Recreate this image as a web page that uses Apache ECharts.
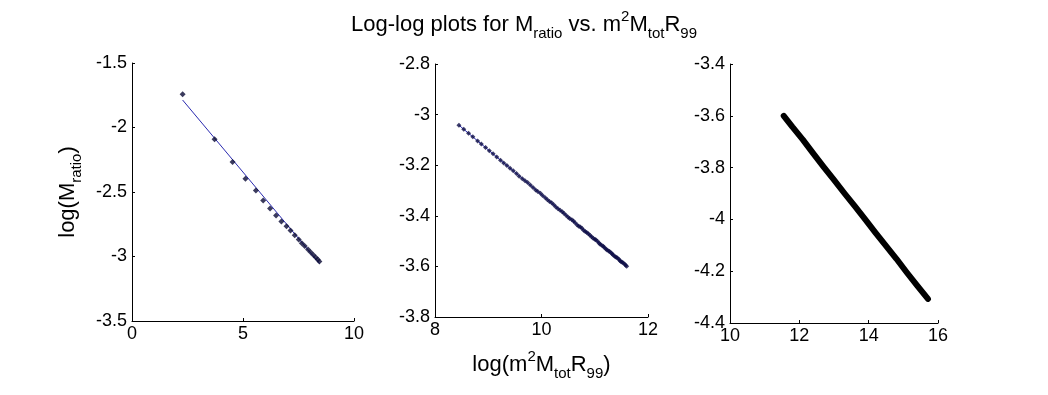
<!DOCTYPE html>
<html><head><meta charset="utf-8">
<script src="https://cdn.jsdelivr.net/npm/echarts@6/dist/echarts.min.js"></script>
<style>html,body{margin:0;padding:0;background:#fff}#c{width:1048px;height:395px}</style>
</head><body><div id="c"></div>
<script>
// Panel 1: log(M_ratio) vs log(m^2 M_tot R_99), first range
const p1X = [2.28, 3.72, 4.53, 5.11, 5.58, 5.91, 6.22, 6.49, 6.73, 6.96, 7.14, 7.33, 7.51, 7.65, 7.78, 7.93, 8.05, 8.17, 8.28, 8.37, 8.44];
const p1Y = [-1.743, -2.092, -2.268, -2.398, -2.488, -2.566, -2.628, -2.682, -2.729, -2.765, -2.799, -2.835, -2.869, -2.897, -2.918, -2.946, -2.967, -2.988, -3.008, -3.024, -3.039];
const p1FitX = [2.28, 8.45];
const p1FitY = [-1.787, -3.055];

// Panel 2
const p2X = [8.45, 8.54, 8.63, 8.71, 8.80, 8.87, 8.95, 9.02, 9.09, 9.16, 9.23, 9.29, 9.35, 9.41, 9.47, 9.53, 9.58, 9.64, 9.69, 9.74, 9.79, 9.84, 9.89, 9.93, 9.98, 10.02, 10.07, 10.11, 10.15, 10.19, 10.23, 10.27, 10.31, 10.35, 10.39, 10.42, 10.46, 10.50, 10.53, 10.57, 10.60, 10.63, 10.67, 10.70, 10.73, 10.76, 10.79, 10.82, 10.85, 10.88, 10.91, 10.94, 10.97, 11.00, 11.02, 11.05, 11.08, 11.10, 11.13, 11.16, 11.18, 11.21, 11.23, 11.26, 11.28, 11.31, 11.33, 11.35, 11.38, 11.40, 11.42, 11.45, 11.47, 11.49, 11.51, 11.53, 11.56, 11.58, 11.60];
const p2Y = [-3.042, -3.058, -3.074, -3.088, -3.104, -3.116, -3.130, -3.143, -3.155, -3.168, -3.180, -3.191, -3.201, -3.212, -3.222, -3.233, -3.244, -3.254, -3.261, -3.268, -3.278, -3.288, -3.298, -3.304, -3.311, -3.320, -3.329, -3.337, -3.343, -3.348, -3.356, -3.365, -3.372, -3.378, -3.384, -3.390, -3.398, -3.406, -3.411, -3.416, -3.421, -3.427, -3.436, -3.441, -3.444, -3.449, -3.457, -3.462, -3.466, -3.471, -3.477, -3.483, -3.489, -3.493, -3.495, -3.501, -3.508, -3.512, -3.516, -3.520, -3.525, -3.531, -3.535, -3.539, -3.541, -3.547, -3.551, -3.556, -3.561, -3.564, -3.566, -3.571, -3.577, -3.581, -3.583, -3.586, -3.591, -3.595, -3.599];
const p2FitX = [8.45, 11.60];
const p2FitY = [-3.042, -3.599];

// Panel 3
const p3X = [11.55, 11.8, 12.1, 12.4, 12.7, 13.0, 13.3, 13.6, 13.9, 14.2, 14.5, 14.8, 15.1, 15.4, 15.71];
const p3Y = [-3.600, -3.643, -3.692, -3.745, -3.797, -3.847, -3.899, -3.949, -4.000, -4.052, -4.102, -4.152, -4.205, -4.256, -4.307];

// Axis ticks
const xTicks = [{min: 0, max: 10, interval: 5}, {min: 8, max: 12, interval: 2}, {min: 10, max: 16, interval: 2}];
const yTicks = [{min: -3.5, max: -1.5, interval: 0.5}, {min: -3.8, max: -2.8, interval: 0.2}, {min: -4.4, max: -3.4, interval: 0.2}];

const FONT = '"Liberation Sans", Arial, Helvetica, sans-serif';
const rich = {
  a: {fontSize: 22, lineHeight: 32, color: '#000', fontFamily: FONT, fontWeight: 'normal'},
  sub: {fontSize: 15, lineHeight: 12, verticalAlign: 'bottom', color: '#000', fontFamily: FONT, fontWeight: 'normal'},
  sup: {fontSize: 15, lineHeight: 20, verticalAlign: 'top', color: '#000', fontFamily: FONT, fontWeight: 'normal'}
};
const zip = (xs, ys) => xs.map((x, i) => [x, ys[i]]);

const grids = [
  {left: 132, top: 63, width: 222, height: 258},
  {left: 435, top: 64, width: 213, height: 253},
  {left: 730, top: 64, width: 208, height: 259}
];
function axisCommon() {
  return {
    type: 'value',
    axisLine: {show: true, onZero: false, lineStyle: {color: '#000', width: 1}},
    axisTick: {show: true, inside: true, length: 3, lineStyle: {color: '#000'}},
    splitLine: {show: false},
    axisLabel: {color: '#000', fontSize: 18, fontFamily: FONT, margin: 5, showMinLabel: true, showMaxLabel: true}
  };
}
const xAxes = xTicks.map((t, i) => Object.assign(axisCommon(), {gridIndex: i, min: t.min, max: t.max, interval: t.interval}));
const yAxes = yTicks.map((t, i) => Object.assign(axisCommon(), {gridIndex: i, min: t.min, max: t.max, interval: t.interval}));
xAxes.forEach(a => a.axisLabel.margin = 4);
yAxes[0].name = '{a|log(M}{sub|ratio}{a|)}';
yAxes[0].nameLocation = 'middle';
yAxes[0].nameRotate = 90;
yAxes[0].nameGap = 48;
yAxes[0].nameTextStyle = {rich: rich};
xAxes[1].name = '{a|log(m}{sup|2}{a|M}{sub|tot}{a|R}{sub|99}{a|)}';
xAxes[1].nameLocation = 'middle';
xAxes[1].nameGap = 32;
xAxes[1].nameTextStyle = {rich: rich};

const chart = echarts.init(document.getElementById('c'), null, {renderer: 'canvas'});
chart.setOption({
  animation: false,
  backgroundColor: '#fff',
  title: {
    text: '{a|Log-log plots for M}{sub|ratio}{a| vs. m}{sup|2}{a|M}{sub|tot}{a|R}{sub|99}',
    left: 'center', top: 4,
    textStyle: {rich: rich, fontWeight: 'normal'}
  },
  grid: grids,
  xAxis: xAxes,
  yAxis: yAxes,
  series: [
    {type: 'line', xAxisIndex: 0, yAxisIndex: 0, data: zip(p1FitX, p1FitY), symbol: 'none', lineStyle: {color: '#2a2ab0', width: 1}, z: 2},
    {type: 'scatter', xAxisIndex: 0, yAxisIndex: 0, data: zip(p1X, p1Y), symbol: 'diamond', symbolSize: 6, itemStyle: {color: '#0a0a35'}, z: 3},
    {type: 'line', xAxisIndex: 1, yAxisIndex: 1, data: zip(p2FitX, p2FitY), symbol: 'none', lineStyle: {color: '#2a2ab0', width: 1}, z: 2},
    {type: 'scatter', xAxisIndex: 1, yAxisIndex: 1, data: zip(p2X, p2Y), symbol: 'diamond', symbolSize: 5, itemStyle: {color: '#0d0d45'}, z: 3},
    {type: 'line', xAxisIndex: 2, yAxisIndex: 2, data: zip(p3X, p3Y), symbol: 'none', lineStyle: {color: '#000', width: 6, cap: 'round', join: 'round'}, z: 3}
  ]
});
</script></body></html>
